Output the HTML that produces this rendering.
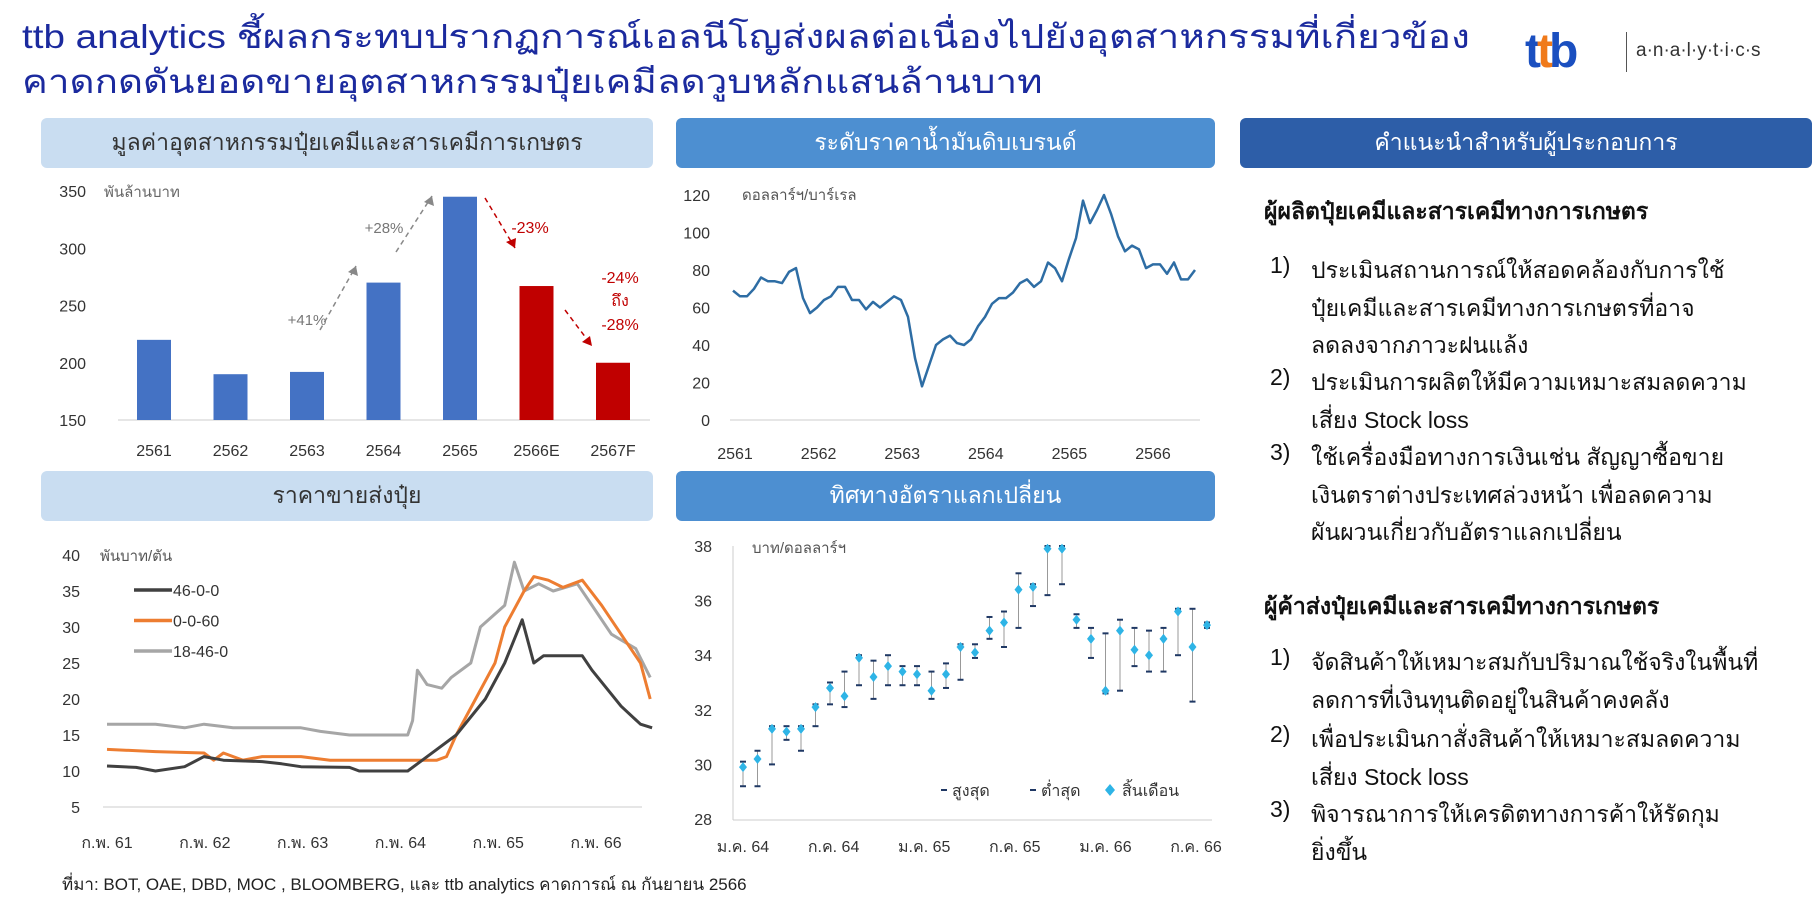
<!DOCTYPE html>
<html><head><meta charset="utf-8"><style>
body{margin:0;width:1812px;height:902px;background:#fff;overflow:hidden;font-family:"Liberation Sans","Noto Sans CJK SC",sans-serif;position:relative}
.t{position:absolute;white-space:nowrap}
.hdr{position:absolute;height:50px;border-radius:6px;display:flex;align-items:center;justify-content:center;font-size:23px}
.r{position:absolute;font-size:23px;color:#111;white-space:nowrap}
</style></head><body>
<div class="t" style="left:22px;top:14px;font-size:33px;color:#1b2a9e;line-height:45px;transform:scaleX(1.17);transform-origin:0 0">ttb analytics ชี้ผลกระทบปรากฏการณ์เอลนีโญส่งผลต่อเนื่องไปยังอุตสาหกรรมที่เกี่ยวข้อง<br>คาดกดดันยอดขายอุตสาหกรรมปุ๋ยเคมีลดวูบหลักแสนล้านบาท</div>
<div class="t" style="left:1525px;top:24px;font-size:48px;font-weight:bold;color:#1a4fc0;letter-spacing:-4px">t<span style="color:#f07a1a">t</span>b</div>
<div style="position:absolute;left:1626px;top:32px;width:1px;height:40px;background:#555"></div>
<div class="t" style="left:1636px;top:40px;font-size:19px;color:#333">a·n·a·l·y·t·i·c·s</div>

<div class="hdr" style="left:41px;top:118px;width:612px;background:#c9ddf1;color:#333">มูลค่าอุตสาหกรรมปุ๋ยเคมีและสารเคมีการเกษตร</div>
<div class="hdr" style="left:676px;top:118px;width:539px;background:#4d8fd1;color:#fff">ระดับราคาน้ำมันดิบเบรนด์</div>
<div class="hdr" style="left:1240px;top:118px;width:572px;background:#2d5ea8;color:#fff">คำแนะนำสำหรับผู้ประกอบการ</div>
<div class="hdr" style="left:41px;top:471px;width:612px;background:#c9ddf1;color:#333">ราคาขายส่งปุ๋ย</div>
<div class="hdr" style="left:676px;top:471px;width:539px;background:#4d8fd1;color:#fff">ทิศทางอัตราแลกเปลี่ยน</div>

<svg id="s" width="1812" height="902" style="position:absolute;left:0;top:0" font-family="Liberation Sans, Noto Sans CJK SC, sans-serif"></svg>

<div class="r" style="left:1264px;top:194px;font-weight:bold">ผู้ผลิตปุ๋ยเคมีและสารเคมีทางการเกษตร</div>
<div class="r" style="left:1270px;top:252px">1)</div>
<div class="r" style="left:1311px;top:252px;line-height:37.5px">ประเมินสถานการณ์ให้สอดคล้องกับการใช้<br>ปุ๋ยเคมีและสารเคมีทางการเกษตรที่อาจ<br>ลดลงจากภาวะฝนแล้ง</div>
<div class="r" style="left:1270px;top:364px">2)</div>
<div class="r" style="left:1311px;top:364px;line-height:37.5px">ประเมินการผลิตให้มีความเหมาะสมลดความ<br>เสี่ยง Stock loss</div>
<div class="r" style="left:1270px;top:439px">3)</div>
<div class="r" style="left:1311px;top:439px;line-height:37.5px">ใช้เครื่องมือทางการเงินเช่น สัญญาซื้อขาย<br>เงินตราต่างประเทศล่วงหน้า เพื่อลดความ<br>ผันผวนเกี่ยวกับอัตราแลกเปลี่ยน</div>
<div class="r" style="left:1264px;top:589px;font-weight:bold">ผู้ค้าส่งปุ๋ยเคมีและสารเคมีทางการเกษตร</div>
<div class="r" style="left:1270px;top:644px">1)</div>
<div class="r" style="left:1311px;top:644px;line-height:37.8px">จัดสินค้าให้เหมาะสมกับปริมาณใช้จริงในพื้นที่<br>ลดการที่เงินทุนติดอยู่ในสินค้าคงคลัง</div>
<div class="r" style="left:1270px;top:721px">2)</div>
<div class="r" style="left:1311px;top:721px;line-height:37.8px">เพื่อประเมินกาสั่งสินค้าให้เหมาะสมลดความ<br>เสี่ยง Stock loss</div>
<div class="r" style="left:1270px;top:796px">3)</div>
<div class="r" style="left:1311px;top:796px;line-height:37.8px">พิจารณาการให้เครดิตทางการค้าให้รัดกุม<br>ยิ่งขึ้น</div>
<div class="t" style="left:62px;top:871px;font-size:17px;color:#222">ที่มา: BOT, OAE, DBD, MOC , BLOOMBERG, และ ttb analytics คาดการณ์ ณ กันยายน 2566</div>

<script>
var s=document.getElementById('s'),h='';
function T(x,y,t,o){h+='<text x="'+x+'" y="'+y+'" font-size="'+((o&&o.fs)||16)+'" fill="'+((o&&o.c)||'#333')+'" text-anchor="'+((o&&o.a)||'start')+'"'+((o&&o.w)?' font-weight="bold"':'')+'>'+t+'</text>';}
function L(x1,y1,x2,y2,c,w,d){h+='<line x1="'+x1+'" y1="'+y1+'" x2="'+x2+'" y2="'+y2+'" stroke="'+c+'" stroke-width="'+(w||1)+'"'+(d?' stroke-dasharray="'+d+'"':'')+'/>';}
function P(pts,c,w){h+='<polyline fill="none" stroke="'+c+'" stroke-width="'+w+'" stroke-linejoin="round" points="'+pts.map(p=>p[0].toFixed(1)+','+p[1].toFixed(1)).join(' ')+'"/>';}
var y1=v=>420-(v-150)*1.145;
[350,300,250,200,150].forEach(v=>T(86,y1(v)+6,v,{a:'end'}));
T(104,197,'พันล้านบาท',{fs:15,c:'#666'});
L(118,420,650,420,'#ccc');
var bars=[220,190,192,270,345,267,200],labs=['2561','2562','2563','2564','2565','2566E','2567F'];
bars.forEach((v,i)=>{var cx=154+i*76.5;h+='<rect x="'+(cx-17)+'" y="'+y1(v)+'" width="34" height="'+(420-y1(v))+'" fill="'+(i>4?'#c00000':'#4472c4')+'"/>';T(cx,456,labs[i],{a:'middle'});});
L(320,330,356,266,'#888',1.5,'5,4');T(307,325,'+41%',{fs:15,c:'#777',a:'middle'});
L(396,252,432,196,'#888',1.5,'5,4');T(384,233,'+28%',{fs:15,c:'#777',a:'middle'});
L(485,198,515,248,'#c00000',1.5,'5,4');T(530,233,'-23%',{fs:16,c:'#c00000',a:'middle'});
L(565,310,592,346,'#c00000',1.5,'5,4');
T(620,283,'-24%',{fs:16,c:'#c00000',a:'middle'});T(620,306,'ถึง',{fs:16,c:'#c00000',a:'middle'});T(620,330,'-28%',{fs:16,c:'#c00000',a:'middle'});
h+='<polygon points="356,266 348,272 358,276" fill="#888"/><polygon points="432,196 424,202 434,206" fill="#888"/><polygon points="515,248 506,242 516,238" fill="#c00000"/><polygon points="592,346 582,342 590,336" fill="#c00000"/>';
var y2=v=>420-v*225/120;
[120,100,80,60,40,20,0].forEach(v=>T(710,y2(v)+6,v,{a:'end'}));
T(742,200,'ดอลลาร์ฯ/บาร์เรล',{fs:15,c:'#555'});
L(730,420,1200,420,'#ccc');
['2561','2562','2563','2564','2565','2566'].forEach((t,i)=>T(735+i*83.6,459,t,{a:'middle'}));
var oil=[69,66,66,70,76,74,74,73,79,81,65,57,60,64,66,71,71,64,64,59,63,60,63,66,64,55,33,18,29,40,43,45,41,40,43,50,55,62,65,65,68,73,75,71,74,84,81,74,86,97,117,105,112,120,110,98,90,93,91,81,83,83,78,84,75,75,80];
P(oil.map((v,i)=>[733+i*7.0,y2(v)]),'#2e6da4',2.5);
var y3=v=>555+(40-v)*7.2, x3=t=>107+(t-61)*97;
[40,35,30,25,20,15,10,5].forEach(v=>T(80,y3(v)+6,v,{a:'end'}));
T(100,561,'พันบาท/ตัน',{fs:15,c:'#555'});
L(103,807,642,807,'#ccc');
['61','62','63','64','65','66'].forEach((t,i)=>T(107+i*97.8,848,'ก.พ. '+t,{a:'middle'}));
function S(a,c){P(a.map(p=>[x3(p[0]),y3(p[1])]),c,3);}
S([[61,16.5],[61.5,16.5],[61.8,16],[62,16.5],[62.3,16],[62.6,16],[63,16],[63.2,15.5],[63.5,15],[64.1,15],[64.15,17],[64.2,24],[64.3,22],[64.45,21.5],[64.55,23],[64.75,25],[64.85,30],[65.1,33],[65.2,39],[65.3,35],[65.45,36],[65.6,35],[65.85,36],[66.0,33],[66.2,29],[66.45,27],[66.6,23]],'#a6a6a6');
S([[61,13],[61.5,12.7],[62,12.5],[62.1,11.5],[62.2,12.5],[62.4,11.5],[62.6,12],[63,12],[63.3,11.5],[64.4,11.5],[64.5,12],[64.6,15],[64.8,20],[65.0,25],[65.1,30],[65.3,35],[65.4,37],[65.55,36.5],[65.7,35.5],[65.9,36.5],[66.1,33],[66.35,28],[66.5,25],[66.6,20]],'#ed7d31');
S([[61,10.7],[61.3,10.5],[61.5,10],[61.8,10.6],[62,12],[62.2,11.5],[62.6,11.3],[62.8,11],[63,10.6],[63.5,10.5],[63.6,10],[64.1,10],[64.2,11],[64.4,13],[64.6,15],[64.9,20],[65.1,25],[65.28,31],[65.4,25],[65.5,26],[65.9,26],[66.0,24],[66.3,19],[66.5,16.5],[66.62,16]],'#404040');
[['46-0-0','#404040'],['0-0-60','#ed7d31'],['18-46-0','#a6a6a6']].forEach((l,i)=>{var yy=590+i*30.5;L(134,yy,172,yy,l[1],3.5);T(173,yy+6,l[0],{fs:16});});
var y4=v=>546+(38-v)*27.3;
[38,36,34,32,30,28].forEach(v=>T(712,y4(v)+6,v,{a:'end'}));
T(752,553,'บาท/ดอลลาร์ฯ',{fs:15,c:'#555'});
L(733,546,733,820,'#ccc');L(733,820,1212,820,'#ccc');
['ม.ค. 64','ก.ค. 64','ม.ค. 65','ก.ค. 65','ม.ค. 66','ก.ค. 66'].forEach((t,i)=>T(743+i*90.6,852,t,{a:'middle'}));
var e=[29.9,30.2,31.3,31.2,31.3,32.1,32.8,32.5,33.9,33.2,33.6,33.4,33.3,32.7,33.3,34.3,34.1,34.9,35.2,36.4,36.5,37.9,37.9,35.3,34.6,32.7,34.9,34.2,34.0,34.6,35.6,34.3,35.1];
var hi=[30.1,30.5,31.4,31.4,31.4,32.2,33.0,33.4,34.0,33.8,34.0,33.6,33.6,33.4,33.7,34.4,34.4,35.4,35.6,37.0,36.6,38.0,38.0,35.5,35.0,34.8,35.3,35.0,34.9,35.0,35.7,35.7,35.2];
var lo=[29.2,29.2,30.0,30.9,30.5,31.4,32.2,32.1,32.9,32.4,32.9,32.9,32.9,32.4,32.8,33.1,33.9,34.6,34.3,35.0,35.8,36.2,36.6,35.0,33.9,32.6,32.7,33.6,33.4,33.4,34.0,32.3,35.0];
e.forEach((v,i)=>{var x=743+i*14.5;L(x,y4(hi[i]),x,y4(lo[i]),'#999',1);L(x-3,y4(hi[i]),x+3,y4(hi[i]),'#1f3864',2);L(x-3,y4(lo[i]),x+3,y4(lo[i]),'#1f3864',2);var yy=y4(v);h+='<polygon points="'+x+','+(yy-5)+' '+(x+4)+','+yy+' '+x+','+(yy+5)+' '+(x-4)+','+yy+'" fill="#2eb4e6"/>';});
L(941,790,947,790,'#1f3864',2);T(952,796,'สูงสุด',{fs:16});
L(1030,790,1036,790,'#1f3864',2);T(1041,796,'ต่ำสุด',{fs:16});
h+='<polygon points="1110,784 1115,790 1110,796 1105,790" fill="#2eb4e6"/>';T(1122,796,'สิ้นเดือน',{fs:16});
s.innerHTML=h;
</script>
</body></html>
